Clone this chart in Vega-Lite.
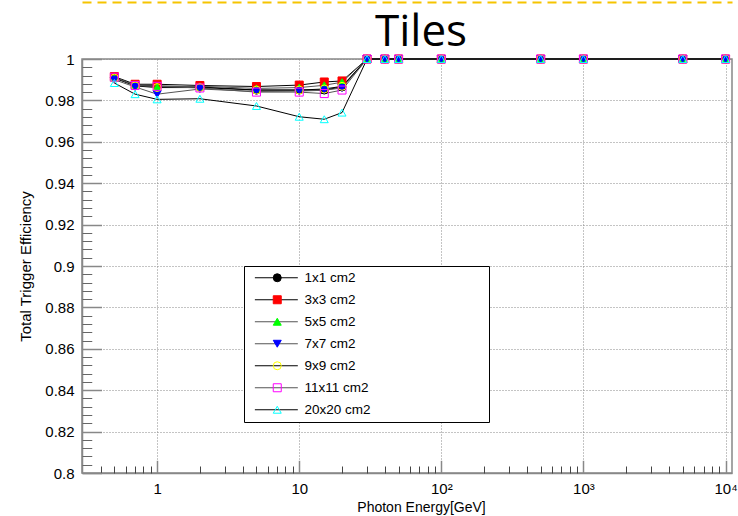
{
  "$schema": "https://vega.github.io/schema/vega-lite/v6.json",
  "width": 650,
  "height": 414,
  "autosize": "none",
  "padding": {"left": 82, "top": 59, "right": 6, "bottom": 43},
  "background": "white",
  "title": {"text": "Tiles", "font": "Open Sans", "fontSize": 44, "fontWeight": "normal", "color": "black", "anchor": "middle", "frame": "group", "offset": -53, "dx": 14},
  "config": {"view": {"stroke": "#888", "strokeWidth": 1.5}, "font": "Liberation Sans"},
  "data": {"values": [
    {"e":0.5,"v":0.991,"t":"1x1 cm2"},{"e":0.7,"v":0.9873,"t":"1x1 cm2"},{"e":1,"v":0.987,"t":"1x1 cm2"},{"e":2,"v":0.9865,"t":"1x1 cm2"},{"e":5,"v":0.985,"t":"1x1 cm2"},{"e":10,"v":0.985,"t":"1x1 cm2"},{"e":15,"v":0.985,"t":"1x1 cm2"},{"e":20,"v":0.9865,"t":"1x1 cm2"},{"e":30,"v":1,"t":"1x1 cm2"},{"e":40,"v":1,"t":"1x1 cm2"},{"e":50,"v":1,"t":"1x1 cm2"},{"e":100,"v":1,"t":"1x1 cm2"},{"e":500,"v":1,"t":"1x1 cm2"},{"e":1000,"v":1,"t":"1x1 cm2"},{"e":5000,"v":1,"t":"1x1 cm2"},{"e":10000,"v":1,"t":"1x1 cm2"},
    {"e":0.5,"v":0.9915,"t":"3x3 cm2"},{"e":0.7,"v":0.9878,"t":"3x3 cm2"},{"e":1,"v":0.9878,"t":"3x3 cm2"},{"e":2,"v":0.9872,"t":"3x3 cm2"},{"e":5,"v":0.9867,"t":"3x3 cm2"},{"e":10,"v":0.9874,"t":"3x3 cm2"},{"e":15,"v":0.9889,"t":"3x3 cm2"},{"e":20,"v":0.9894,"t":"3x3 cm2"},{"e":30,"v":1,"t":"3x3 cm2"},{"e":40,"v":1,"t":"3x3 cm2"},{"e":50,"v":1,"t":"3x3 cm2"},{"e":100,"v":1,"t":"3x3 cm2"},{"e":500,"v":1,"t":"3x3 cm2"},{"e":1000,"v":1,"t":"3x3 cm2"},{"e":5000,"v":1,"t":"3x3 cm2"},{"e":10000,"v":1,"t":"3x3 cm2"},
    {"e":0.5,"v":0.991,"t":"5x5 cm2"},{"e":0.7,"v":0.9873,"t":"5x5 cm2"},{"e":1,"v":0.9865,"t":"5x5 cm2"},{"e":2,"v":0.9868,"t":"5x5 cm2"},{"e":5,"v":0.9858,"t":"5x5 cm2"},{"e":10,"v":0.9862,"t":"5x5 cm2"},{"e":15,"v":0.9873,"t":"5x5 cm2"},{"e":20,"v":0.9888,"t":"5x5 cm2"},{"e":30,"v":1,"t":"5x5 cm2"},{"e":40,"v":1,"t":"5x5 cm2"},{"e":50,"v":1,"t":"5x5 cm2"},{"e":100,"v":1,"t":"5x5 cm2"},{"e":500,"v":1,"t":"5x5 cm2"},{"e":1000,"v":1,"t":"5x5 cm2"},{"e":5000,"v":1,"t":"5x5 cm2"},{"e":10000,"v":1,"t":"5x5 cm2"},
    {"e":0.5,"v":0.990,"t":"7x7 cm2"},{"e":0.7,"v":0.9865,"t":"7x7 cm2"},{"e":1,"v":0.983,"t":"7x7 cm2"},{"e":2,"v":0.9855,"t":"7x7 cm2"},{"e":5,"v":0.9843,"t":"7x7 cm2"},{"e":10,"v":0.9845,"t":"7x7 cm2"},{"e":15,"v":0.9849,"t":"7x7 cm2"},{"e":20,"v":0.986,"t":"7x7 cm2"},{"e":30,"v":1,"t":"7x7 cm2"},{"e":40,"v":1,"t":"7x7 cm2"},{"e":50,"v":1,"t":"7x7 cm2"},{"e":100,"v":1,"t":"7x7 cm2"},{"e":500,"v":1,"t":"7x7 cm2"},{"e":1000,"v":1,"t":"7x7 cm2"},{"e":5000,"v":1,"t":"7x7 cm2"},{"e":10000,"v":1,"t":"7x7 cm2"},
    {"e":0.5,"v":0.9908,"t":"9x9 cm2"},{"e":0.7,"v":0.987,"t":"9x9 cm2"},{"e":1,"v":0.9862,"t":"9x9 cm2"},{"e":2,"v":0.9862,"t":"9x9 cm2"},{"e":5,"v":0.985,"t":"9x9 cm2"},{"e":10,"v":0.985,"t":"9x9 cm2"},{"e":15,"v":0.9855,"t":"9x9 cm2"},{"e":20,"v":0.9868,"t":"9x9 cm2"},{"e":30,"v":1,"t":"9x9 cm2"},{"e":40,"v":1,"t":"9x9 cm2"},{"e":50,"v":1,"t":"9x9 cm2"},{"e":100,"v":1,"t":"9x9 cm2"},{"e":500,"v":1,"t":"9x9 cm2"},{"e":1000,"v":1,"t":"9x9 cm2"},{"e":5000,"v":1,"t":"9x9 cm2"},{"e":10000,"v":1,"t":"9x9 cm2"},
    {"e":0.5,"v":0.9912,"t":"11x11 cm2"},{"e":0.7,"v":0.9872,"t":"11x11 cm2"},{"e":1,"v":0.9868,"t":"11x11 cm2"},{"e":2,"v":0.986,"t":"11x11 cm2"},{"e":5,"v":0.984,"t":"11x11 cm2"},{"e":10,"v":0.984,"t":"11x11 cm2"},{"e":15,"v":0.9833,"t":"11x11 cm2"},{"e":20,"v":0.985,"t":"11x11 cm2"},{"e":30,"v":1,"t":"11x11 cm2"},{"e":40,"v":1,"t":"11x11 cm2"},{"e":50,"v":1,"t":"11x11 cm2"},{"e":100,"v":1,"t":"11x11 cm2"},{"e":500,"v":1,"t":"11x11 cm2"},{"e":1000,"v":1,"t":"11x11 cm2"},{"e":5000,"v":1,"t":"11x11 cm2"},{"e":10000,"v":1,"t":"11x11 cm2"},
    {"e":0.5,"v":0.9884,"t":"20x20 cm2"},{"e":0.7,"v":0.983,"t":"20x20 cm2"},{"e":1,"v":0.9805,"t":"20x20 cm2"},{"e":2,"v":0.9808,"t":"20x20 cm2"},{"e":5,"v":0.9773,"t":"20x20 cm2"},{"e":10,"v":0.9721,"t":"20x20 cm2"},{"e":15,"v":0.9709,"t":"20x20 cm2"},{"e":20,"v":0.9741,"t":"20x20 cm2"},{"e":30,"v":1,"t":"20x20 cm2"},{"e":40,"v":1,"t":"20x20 cm2"},{"e":50,"v":1,"t":"20x20 cm2"},{"e":100,"v":1,"t":"20x20 cm2"},{"e":500,"v":1,"t":"20x20 cm2"},{"e":1000,"v":1,"t":"20x20 cm2"},{"e":5000,"v":1,"t":"20x20 cm2"},{"e":10000,"v":1,"t":"20x20 cm2"}
  ]},
  "layer": [
    {
      "mark": {"type": "line", "strokeWidth": 1},
      "encoding": {
        "x": {"field": "e", "type": "quantitative",
          "scale": {"type": "log", "domain": [0.296, 11100], "nice": false},
          "axis": {"orient": "bottom", "values": [1, 10, 100, 1000, 10000],
            "labelExpr": "datum.value == 1 ? '1' : datum.value == 10 ? '10' : datum.value == 100 ? '10²' : datum.value == 1000 ? '10³' : '10⁴'",
            "grid": true, "gridDash": [1, 2], "gridColor": "#888", "gridWidth": 1, "gridOpacity": 1,
            "tickSize": -12.7, "tickColor": "#888", "tickWidth": 1.5,
            "domainColor": "#888", "domainWidth": 1.5,
            "labelFont": "Liberation Sans", "labelFontSize": 15, "labelColor": "black", "labelPadding": 20.7, "labelFlush": false, "labelOverlap": false,
            "title": "Photon Energy[GeV]", "titleFont": "Liberation Sans", "titleFontSize": 14, "titleFontWeight": "normal", "titleColor": "black",
            "titleX": 339, "titleY": 27, "titleAlign": "center", "titleBaseline": "top"}},
        "y": {"field": "v", "type": "quantitative",
          "scale": {"domain": [0.8, 1], "nice": false, "zero": false},
          "axis": {"orient": "left", "values": [0.8, 0.82, 0.84, 0.86, 0.88, 0.9, 0.92, 0.94, 0.96, 0.98, 1], "format": ".2~f",
            "grid": true, "gridDash": [1, 2], "gridColor": "#888", "gridWidth": 1, "gridOpacity": 1,
            "tickSize": -19.5, "tickColor": "#888", "tickWidth": 1.5,
            "domainColor": "#888", "domainWidth": 1.5,
            "labelFont": "Liberation Sans", "labelFontSize": 15, "labelColor": "black", "labelPadding": 27.5, "labelFlush": false, "labelOverlap": false,
            "title": "Total Trigger Efficiency", "titleFont": "Liberation Sans", "titleFontSize": 15, "titleFontWeight": "normal", "titleColor": "black", "titlePadding": 11}},
        "color": {"field": "t", "type": "nominal",
          "sort": ["1x1 cm2", "3x3 cm2", "5x5 cm2", "7x7 cm2", "9x9 cm2", "11x11 cm2", "20x20 cm2"],
          "scale": {"range": ["#000000", "#000000", "#555555", "#555555", "#000000", "#555555", "#000000"]},
          "legend": {"orient": "none", "legendX": 162, "legendY": 207, "title": null,
            "symbolType": "M-0.2,0H9.59", "symbolSize": 77, "symbolStrokeWidth": 1,
            "labelOpacity": 0, "labelOffset": 155, "labelFontSize": 13.5, "labelFont": "Liberation Sans",
            "padding": 5, "rowPadding": 7, "fillColor": "white", "strokeColor": "black", "cornerRadius": 0}}
      }
    },
    {
      "mark": {"type": "point", "size": 64, "strokeWidth": 1, "opacity": 1},
      "encoding": {
        "x": {"field": "e", "type": "quantitative", "axis": null},
        "y": {"field": "v", "type": "quantitative", "axis": null},
        "shape": {"field": "t", "type": "nominal",
          "scale": {"domain": ["1x1 cm2", "3x3 cm2", "5x5 cm2", "7x7 cm2", "9x9 cm2", "11x11 cm2", "20x20 cm2"],
                    "range": ["circle", "square", "triangle-up", "triangle-down", "circle", "square", "triangle-up"]},
          "legend": {"orient": "none", "legendX": 188.5, "legendY": 212, "title": null, "symbolSize": 64, "symbolStrokeWidth": 1,
            "labelFontSize": 13.5, "labelFont": "Liberation Sans", "labelColor": "black", "labelOffset": 20.5, "padding": 0, "rowPadding": 7}},
        "fill": {"field": "t", "type": "nominal",
          "scale": {"domain": ["1x1 cm2", "3x3 cm2", "5x5 cm2", "7x7 cm2", "9x9 cm2", "11x11 cm2", "20x20 cm2"],
                    "range": ["#000000", "#ff0000", "#00ff00", "#0000ff", "transparent", "transparent", "transparent"]},
          "legend": {"orient": "none", "legendX": 188.5, "legendY": 212, "title": null, "symbolSize": 64, "symbolStrokeWidth": 1,
            "labelFontSize": 13.5, "labelFont": "Liberation Sans", "labelColor": "black", "labelOffset": 20.5, "padding": 0, "rowPadding": 7}},
        "stroke": {"field": "t", "type": "nominal",
          "scale": {"domain": ["1x1 cm2", "3x3 cm2", "5x5 cm2", "7x7 cm2", "9x9 cm2", "11x11 cm2", "20x20 cm2"],
                    "range": ["#000000", "#ff0000", "#00ff00", "#0000ff", "#ffff00", "#ff00ff", "#00ffff"]},
          "legend": {"orient": "none", "legendX": 188.5, "legendY": 212, "title": null, "symbolSize": 64, "symbolStrokeWidth": 1,
            "labelFontSize": 13.5, "labelFont": "Liberation Sans", "labelColor": "black", "labelOffset": 20.5, "padding": 0, "rowPadding": 7}}
      }
    },
    {
      "mark": {"type": "point", "opacity": 0},
      "encoding": {
        "x": {"field": "e", "type": "quantitative",
          "axis": {"orient": "bottom", "values": [0.4,0.5,0.6,0.7,0.8,0.9,2,3,4,5,6,7,8,9,20,30,40,50,60,70,80,90,200,300,400,500,600,700,800,900,2000,3000,4000,5000,6000,7000,8000,9000],
            "labels": false, "grid": false, "domain": false, "tickSize": -7, "tickColor": "#444", "tickWidth": 1, "title": null}},
        "y": {"field": "v", "type": "quantitative",
          "axis": {"orient": "left", "values": [0.804,0.808,0.812,0.816,0.824,0.828,0.832,0.836,0.844,0.848,0.852,0.856,0.864,0.868,0.872,0.876,0.884,0.888,0.892,0.896,0.904,0.908,0.912,0.916,0.924,0.928,0.932,0.936,0.944,0.948,0.952,0.956,0.964,0.968,0.972,0.976,0.984,0.988,0.992,0.996],
            "labels": false, "grid": false, "domain": false, "tickSize": -9.75, "tickColor": "#666", "tickWidth": 1, "title": null}}
      }
    },
    {
      "mark": {"type": "point", "opacity": 0},
      "encoding": {
        "x": {"field": "e", "type": "quantitative",
          "axis": {"orient": "top", "offset": 57, "domainColor": "#f5c400", "domainWidth": 2, "domainDash": [9, 6],
            "ticks": false, "labels": false, "grid": false, "title": null}},
        "y": {"field": "v", "type": "quantitative", "axis": null}
      }
    }
  ],
  "resolve": {"axis": {"x": "independent", "y": "independent"}}
}
